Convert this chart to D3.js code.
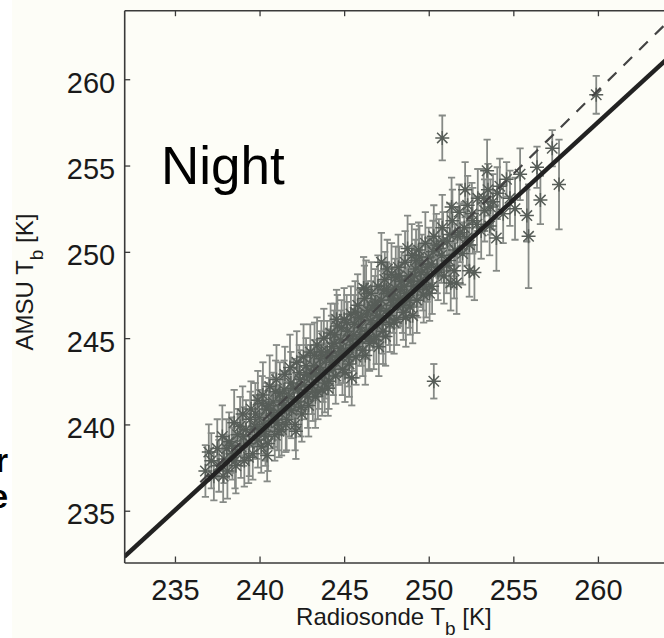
<!DOCTYPE html>
<html><head><meta charset="utf-8">
<script src="https://cdn.jsdelivr.net/npm/d3@7"></script>
<style>body{margin:0;background:#fff;} svg{display:block;}</style>
</head><body>
<svg id="c" width="664" height="638"></svg>
<script>
// Radiosonde brightness temperature (x), AMSU brightness temperature (y), error bar half-length
const radiosonde = [236.8,237.0,237.3,237.5,237.6,237.8,237.9,238.1,238.2,238.4,238.5,238.6,238.7,238.9,239.0,239.1,239.2,239.4,239.5,239.6,239.7,239.9,239.9,
240.0,240.1,240.2,240.3,240.4,240.5,240.6,240.7,240.8,240.9,241.0,241.1,241.2,241.3,241.4,241.5,241.6,241.7,241.8,241.9,242.0,242.1,242.2,242.3,242.4,242.5,242.6,242.7,242.8,242.9,243.0,
243.1,243.2,243.3,243.4,243.5,243.6,243.7,243.8,243.9,244.0,244.1,244.2,244.3,244.4,244.5,244.6,244.7,244.8,244.9,245.0,245.1,245.2,245.3,245.4,245.5,245.6,245.7,245.8,245.9,246.0,246.1,246.2,246.3,246.4,246.5,246.6,246.7,246.8,246.9,247.0,
247.1,247.2,247.3,247.4,247.5,247.6,247.7,247.8,247.9,248.0,248.1,248.2,248.3,248.4,248.5,248.6,248.7,248.8,248.9,249.0,249.1,249.2,249.3,249.4,249.5,249.6,249.7,249.8,249.9,
250.0,250.2,250.3,250.5,250.6,250.8,250.9,251.1,251.2,251.4,251.5,251.7,251.8,252.0,252.1,252.3,252.4,252.6,252.7,252.9,
253.1,253.3,253.5,253.6,253.8,254.0,254.2,254.4,254.6,254.8,255.1,255.4,255.8,255.9,256.4,256.6,257.3,257.7,
250.8,259.9,250.3,
240.25,240.55,240.85,241.15,241.45,241.75,242.05,242.35,242.65,242.95,243.25,243.55,243.85,244.15,244.45,244.75,245.05,245.35,245.65,245.95,246.25,246.55,246.85,247.15,247.45,247.75,248.05,248.35,248.65,248.95,249.25,249.55,249.85,250.15,250.45,250.75,
238.35,238.85,239.35,239.75,237.15,243.45,244.55,246.15,247.55,248.75,251.35,252.15,253.45,245.45,247.05,249.05,251.65,242.15,240.45,
247.2,251.3,252.4,246.3,247.5,
239.05,239.45,239.85,240.15,240.35,240.65,240.95,241.05,241.35,241.55,241.85,242.25,242.45,242.75,242.85,243.05,243.15,243.35,243.65,243.75,243.95,244.05,244.25,244.35,244.65,244.85,244.95,
245.15,245.25,245.55,245.75,245.85,246.05,246.35,246.45,246.65,246.75,246.95,247.25,247.35,247.65,247.85,247.95,248.15,248.25,248.45,248.55,248.85,249.15,249.35,249.45,249.65,249.95,
250.05,250.25,250.55,250.85,251.05,251.25,251.55,251.85,252.25,252.55,252.85,253.25,253.65,254.05,238.05,237.85,238.55];
const amsu = [237.3,238.4,237.0,238.6,237.6,239.3,238.0,237.3,239.0,238.3,240.1,237.6,239.4,238.7,240.6,237.9,239.7,238.9,240.9,238.3,239.9,241.4,239.1,
240.4,238.7,241.7,239.6,240.9,238.9,242.2,240.2,241.3,239.4,242.6,240.7,241.8,239.7,241.1,242.9,240.3,241.6,243.3,240.8,242.1,240.0,243.6,241.3,242.6,240.6,243.9,241.8,242.9,241.1,244.2,
242.3,243.4,241.6,244.6,242.8,243.8,242.0,245.0,243.1,244.2,242.5,245.3,243.6,244.7,242.8,245.7,243.9,244.9,243.2,246.1,244.3,245.4,243.5,246.4,244.6,245.8,243.9,246.9,245.0,246.2,244.3,247.3,245.4,246.6,244.7,247.6,245.8,246.9,245.1,248.0,
246.2,247.2,245.4,248.4,246.6,247.6,245.8,248.7,246.9,247.9,246.1,249.1,247.3,248.3,246.5,249.4,247.6,248.6,246.8,249.8,248.0,249.0,247.2,250.1,248.3,249.3,247.5,250.5,248.7,
249.7,248.0,250.9,249.1,250.2,251.4,248.6,250.6,249.5,251.8,248.9,250.9,252.3,249.9,251.4,252.7,250.4,251.8,248.8,253.1,
251.2,252.4,253.6,251.5,252.9,250.8,253.8,252.2,254.2,253.1,252.5,254.5,252.1,250.9,254.9,253.0,256.0,253.9,
256.6,259.1,242.5,
240.0,241.1,240.5,239.6,242.0,240.9,241.5,243.0,242.3,242.8,244.0,243.3,242.4,243.9,245.2,244.4,243.0,244.9,246.5,245.6,244.0,246.0,247.1,246.7,245.1,247.2,248.5,247.8,246.2,248.3,249.5,248.8,247.9,249.3,250.4,249.8,
238.8,239.9,238.1,240.6,237.9,241.9,246.1,247.9,249.0,250.2,252.6,253.6,254.7,242.7,244.5,246.3,248.2,239.6,238.2,
249.4,248.2,248.9,247.8,247.8,
239.3,240.3,239.8,241.2,239.3,240.8,241.9,240.1,241.4,240.0,242.4,242.0,241.0,243.4,241.6,243.0,241.9,242.9,244.2,242.9,243.8,242.1,244.5,243.2,244.0,245.6,244.2,
245.9,243.9,245.2,244.5,246.2,245.1,246.4,245.0,246.8,244.9,246.3,245.9,247.8,246.3,247.5,245.9,247.1,248.6,246.9,248.0,247.2,248.6,247.8,249.7,248.1,249.1,
247.6,250.0,248.8,250.6,249.2,251.0,250.1,251.1,250.8,252.2,251.6,253.1,252.6,253.4,238.6,237.0,237.9];
const errHalf = [1.5,1.6,1.4,1.7,1.5,1.8,1.4,1.6,1.7,1.5,1.9,1.6,1.5,1.8,1.6,1.5,1.7,1.9,1.6,1.5,1.8,1.7,1.6,
1.6,1.5,1.9,1.7,1.5,1.6,1.8,1.6,1.7,1.5,2.0,1.6,1.8,1.5,1.7,1.6,1.8,1.5,1.9,1.6,1.7,1.5,1.8,1.6,1.7,1.6,1.9,1.5,1.7,1.8,1.6,
1.7,1.5,1.8,1.6,1.9,1.6,1.5,1.7,1.6,1.8,1.6,1.7,1.5,1.9,1.6,1.8,1.6,1.7,1.5,1.8,1.6,1.7,1.9,1.6,1.5,1.7,1.6,1.8,1.6,1.7,1.5,1.9,1.6,1.7,1.6,1.8,1.5,1.7,1.6,1.8,
1.6,1.7,1.9,1.6,1.5,1.7,1.6,1.8,1.6,1.7,1.5,1.9,1.6,1.7,1.6,1.8,1.5,1.7,1.6,1.8,1.6,1.7,1.9,1.6,1.5,1.7,1.6,1.8,1.6,
1.7,1.6,1.8,1.5,1.7,1.9,1.6,1.7,1.5,1.8,1.6,1.7,1.6,1.8,1.5,1.7,1.6,1.9,1.6,1.7,
1.6,1.8,1.5,1.7,1.6,1.9,1.6,1.7,1.0,1.6,1.8,1.5,1.5,3.0,1.2,1.4,1.05,2.6,
1.3,1.1,1.0,
1.7,1.6,1.8,1.5,1.7,1.6,1.8,1.6,1.7,1.5,1.9,1.6,1.7,1.6,1.8,1.5,1.7,1.6,1.8,1.6,1.7,1.5,1.9,1.6,1.7,1.6,1.8,1.5,1.7,1.6,1.8,1.6,1.7,1.5,1.8,1.6,
1.6,1.7,1.5,1.8,1.6,1.6,1.7,1.8,1.7,1.9,1.7,1.6,1.8,1.6,1.7,1.6,1.8,1.6,1.5,
1.7,1.6,1.5,1.7,1.6,
1.7,1.6,1.8,1.6,1.7,1.5,1.8,1.6,1.7,1.6,1.8,1.5,1.7,1.6,1.8,1.6,1.7,1.5,1.8,1.6,1.7,1.6,1.8,1.5,1.7,1.6,1.8,
1.6,1.7,1.5,1.8,1.6,1.7,1.6,1.8,1.5,1.7,1.6,1.8,1.6,1.7,1.6,1.8,1.5,1.7,1.6,1.8,1.6,1.7,1.6,1.8,1.5,1.7,
1.6,1.8,1.6,1.7,1.6,1.8,1.5,1.7,1.6,1.8,1.6,1.7,1.6,1.5,1.7,1.5,1.6];

const xTicks = [235, 240, 245, 250, 255, 260];
const yTicks = [235, 240, 245, 250, 255, 260];
const xDomain = [232, 264];
const yDomain = [232, 264];
// regression fit (solid) and reference (dashed) lines, endpoints in data units
const fitLineX = [232, 264];
const fitLineY = [232.33, 261.1];
const refLineX = [236.5, 264];
const refLineY = [236.65, 263.2];

const svg = d3.select("#c");
const FONT = "'Liberation Sans', Arial, Helvetica, sans-serif";
const bg = "#fdfdf7";

const L = 124.2, R = 665.6, T = 10.2, B = 562.5;
const x = d3.scaleLinear().domain(xDomain).range([L, R]);
const y = d3.scaleLinear().domain(yDomain).range([B, T]);

// figure background (left strip is white page)
svg.append("rect").attr("x", 12).attr("y", 0).attr("width", 652).attr("height", 638).attr("fill", bg);

// clipped text from neighbouring panel (cut off at the left edge, as in the source)
svg.append("text").attr("x", 8).attr("y", 472).attr("text-anchor", "end")
  .attr("font-family", FONT).attr("font-weight", "bold").attr("font-size", 33).attr("fill", "#000").text("r");
svg.append("text").attr("x", 8).attr("y", 508).attr("text-anchor", "end")
  .attr("font-family", FONT).attr("font-weight", "bold").attr("font-size", 33).attr("fill", "#000").text("e");

svg.append("clipPath").attr("id", "plotclip").append("rect")
  .attr("x", L).attr("y", T).attr("width", R - L).attr("height", B - T);

const data = radiosonde.map((v, i) => ({ x: v, y: amsu[i], e: errHalf[i] }));
const g = svg.append("g").attr("clip-path", "url(#plotclip)");

// error bars
const barColor = "#868a86";
const eb = g.append("g").attr("stroke", barColor).attr("stroke-width", 1.8).attr("fill", "none");
data.forEach(d => {
  const xp = x(d.x), y1 = y(d.y + d.e), y2 = y(d.y - d.e);
  eb.append("line").attr("x1", xp).attr("x2", xp).attr("y1", y1).attr("y2", y2);
  eb.append("line").attr("x1", xp - 3.6).attr("x2", xp + 3.6).attr("y1", y1).attr("y2", y1);
  eb.append("line").attr("x1", xp - 3.6).attr("x2", xp + 3.6).attr("y1", y2).attr("y2", y2);
});

// asterisk markers
const r = 7, rd = 5.2;
const star = `M${-r},0L${r},0M0,${-r}L0,${r}M${-rd},${-rd}L${rd},${rd}M${-rd},${rd}L${rd},${-rd}`;
g.append("g").selectAll("path").data(data).join("path")
  .attr("d", star).attr("transform", d => `translate(${x(d.x)},${y(d.y)})`)
  .attr("stroke", "#575d58").attr("stroke-width", 1.5).attr("fill", "none");

// reference dashed line and fit line
const line = d3.line().x(d => x(d[0])).y(d => y(d[1]));
g.append("path").attr("d", line(refLineX.map((v, i) => [v, refLineY[i]])))
  .attr("stroke", "#444").attr("stroke-width", 2.2).attr("stroke-dasharray", "12,10").attr("fill", "none");
g.append("path").attr("d", line(fitLineX.map((v, i) => [v, fitLineY[i]])))
  .attr("stroke", "#222").attr("stroke-width", 4.5).attr("fill", "none");

// axes
const axColor = "#3a3a3a";
function styleAxis(sel) {
  sel.select(".domain").attr("stroke", axColor).attr("stroke-width", 1.6);
  sel.selectAll(".tick line").attr("stroke", axColor).attr("stroke-width", 1.3);
  sel.selectAll(".tick text").attr("font-family", FONT).attr("font-size", 29).attr("fill", "#1a1a1a");
}
const gx = svg.append("g").attr("transform", `translate(0,${B})`)
  .call(d3.axisBottom(x).tickValues(xTicks).tickSizeInner(-6).tickSizeOuter(0).tickFormat(d3.format("d")));
styleAxis(gx);
gx.selectAll(".tick text").attr("y", 37.5).attr("dy", null);

const gt = svg.append("g").attr("transform", `translate(0,${T})`)
  .call(d3.axisTop(x).tickValues(xTicks).tickSizeInner(-6).tickSizeOuter(0).tickFormat(""));
styleAxis(gt);

const gy = svg.append("g").attr("transform", `translate(${L},0)`)
  .call(d3.axisLeft(y).tickValues(yTicks).tickSizeInner(-6).tickSizeOuter(0).tickFormat(d3.format("d")));
styleAxis(gy);
gy.selectAll(".tick text").attr("x", -9).attr("dy", null).attr("y", 13);

// axis titles
const xt = svg.append("text").attr("x", (L + R) / 2 - 1).attr("y", 625).attr("text-anchor", "middle")
  .attr("font-family", FONT).attr("font-size", 24).attr("fill", "#1a1a1a");
xt.append("tspan").text("Radiosonde T");
xt.append("tspan").attr("font-size", 19).attr("dy", 10).text("b");
xt.append("tspan").attr("dy", -10).text(" [K]");

const yt = svg.append("text").attr("transform", `translate(33,282) rotate(-90)`).attr("text-anchor", "middle")
  .attr("font-family", FONT).attr("font-size", 24).attr("fill", "#1a1a1a");
yt.append("tspan").text("AMSU T");
yt.append("tspan").attr("font-size", 19).attr("dy", 10).text("b");
yt.append("tspan").attr("dy", -10).text(" [K]");

// panel label
svg.append("text").attr("x", 161).attr("y", 184).attr("font-family", FONT)
  .attr("font-size", 53).attr("fill", "#000").text("Night");
</script>
</body></html>
